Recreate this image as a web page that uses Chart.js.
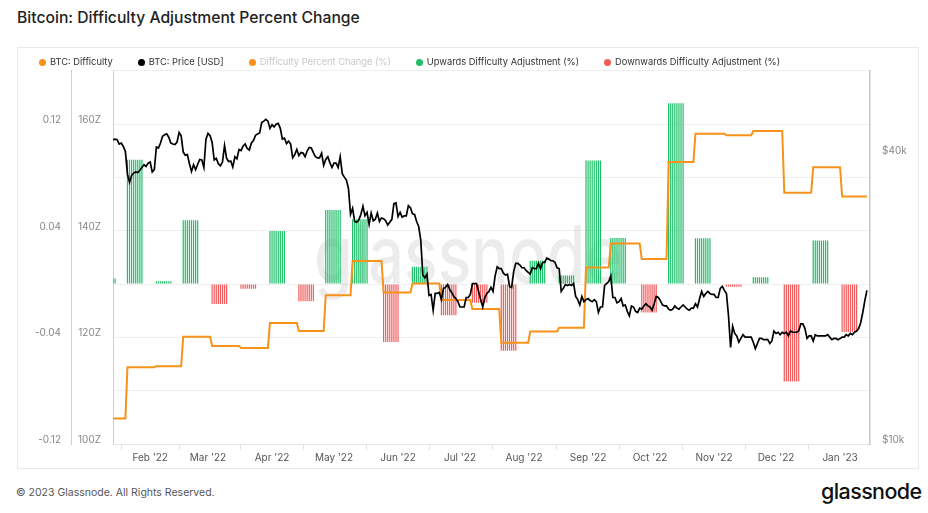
<!DOCTYPE html>
<html lang="en">
<head>
<meta charset="UTF-8">
<title>Bitcoin: Difficulty Adjustment Percent Change</title>
<script src="https://cdn.jsdelivr.net/npm/chart.js"></script>
<style>
  body { margin: 0; background: #fff; font-family: Inter, "Open Sans", sans-serif; width: 928px; height: 513px; position: relative; overflow: hidden; }
  .titulo { position: absolute; left: 17px; top: 8px; font-size: 15.7px; font-weight: 500; color: #222; }
  .painel { position: absolute; left: 17px; top: 47px; width: 902px; height: 422px; box-sizing: border-box; border: 1px solid #e9e9e9; }
  .grafico { position: absolute; left: 0; top: 0; width: 900px; height: 420px; }
  .legenda { position: absolute; left: 21px; top: 8px; display: flex; font-size: 9.3px; line-height: 12px; color: #333; z-index: 2; }
  .legenda span.item { display: flex; align-items: center; margin-right: 25px; white-space: nowrap; }
  .legenda i { display: inline-block; width: 7px; height: 7px; border-radius: 50%; margin-right: 4px; }
  .rodape { position: absolute; left: 16px; top: 486px; font-size: 10.5px; color: #555; }
  .logo { position: absolute; left: 821px; top: 478px; font-size: 21.5px; font-weight: 500; letter-spacing: -0.6px; color: #111; }
</style>
</head>
<body>
  <div class="titulo">Bitcoin: Difficulty Adjustment Percent Change</div>
  <div class="painel">
    <div class="legenda" id="legenda"></div>
    <div class="grafico"><canvas id="myChart"></canvas></div>
  </div>
  <div class="rodape">© 2023 Glassnode. All Rights Reserved.</div>
  <div class="logo">glassnode</div>

<script>
// dia 0 = 1 Jan 2022
const firstDay = 13;   // 14 Jan 2022
const lastDay = 378;   // 14 Jan 2023
const xMax = 379.5;

const monthTickDays = [31, 59, 90, 120, 151, 181, 212, 243, 273, 304, 334, 365];
const monthTickLabels = ["Feb '22", "Mar '22", "Apr '22", "May '22", "Jun '22", "Jul '22",
  "Aug '22", "Sep '22", "Oct '22", "Nov '22", "Dec '22", "Jan '23"];

// preco diario em milhares de USD, a partir de 14 Jan 2022
const priceK = [
  // jan
  43.1, 43.2, 43.1, 42.2, 42.4, 41.7, 40.7, 36.5, 35.1, 36.3, 36.7, 36.9, 36.8, 37.2, 37.7, 38.2, 37.9, 38.5,
  // fev
  38.7, 36.9, 37.3, 41.6, 41.4, 42.4, 43.8, 44.1, 44.3, 43.6, 42.4, 42.2, 42.1, 42.6, 44.6, 43.9, 40.6, 40.0,
  40.1, 38.4, 37.0, 38.2, 37.3, 38.3, 39.2, 39.1, 37.7, 43.2,
  // mar
  44.4, 43.9, 42.5, 39.1, 39.4, 38.4, 38.0, 38.7, 41.9, 39.4, 38.8, 38.9, 37.8, 39.7, 39.3, 41.1, 40.9, 41.8,
  42.2, 41.3, 41.0, 42.4, 42.9, 44.0, 44.3, 44.5, 46.8, 47.1, 47.5, 47.1, 45.5,
  // abr
  46.3, 45.8, 46.4, 46.6, 45.5, 43.2, 43.4, 42.3, 42.8, 42.2, 39.5, 40.1, 41.1, 39.9, 40.5, 40.4, 39.7, 40.8,
  41.5, 41.4, 40.5, 39.7, 39.5, 39.5, 40.4, 38.1, 39.2, 39.7, 38.6, 37.7,
  // mai
  38.5, 38.5, 37.7, 39.7, 36.6, 36.0, 35.5, 34.1, 30.1, 31.0, 29.1, 29.0, 29.3, 30.1, 31.3, 29.9, 30.4, 28.7,
  30.3, 29.2, 29.4, 30.3, 29.1, 29.6, 29.5, 29.2, 28.6, 29.0, 29.4, 31.7, 31.8,
  // jun
  29.8, 30.4, 29.7, 29.9, 29.9, 31.4, 31.1, 30.2, 30.1, 29.1, 28.4, 26.6, 22.5, 22.2, 22.6, 20.4, 20.5, 19.0,
  20.6, 20.6, 20.7, 20.0, 21.1, 21.2, 21.5, 21.0, 20.7, 20.3, 20.1, 19.8,
  // jul
  19.3, 19.3, 19.3, 20.2, 20.2, 20.5, 21.6, 21.6, 21.6, 20.8, 20.0, 19.3, 20.2, 20.6, 20.8, 21.2, 20.8, 22.4,
  23.4, 23.2, 23.2, 22.7, 22.5, 22.6, 21.3, 21.2, 22.9, 23.8, 23.8, 23.6, 23.3,
  // ago
  23.3, 23.0, 22.8, 22.6, 23.3, 23.2, 23.2, 23.8, 23.2, 23.9, 23.9, 24.4, 24.3, 24.1, 24.1, 23.9, 23.3, 23.2,
  20.8, 21.1, 21.5, 21.4, 21.5, 21.4, 21.6, 20.3, 20.0, 19.5, 20.3, 19.8, 20.0,
  // set
  20.1, 19.9, 19.8, 20.0, 19.8, 18.8, 19.3, 19.3, 21.4, 21.6, 21.8, 22.4, 20.2, 20.2, 19.7, 19.8, 20.1, 19.4,
  19.5, 18.9, 18.5, 19.4, 19.3, 18.9, 18.8, 19.2, 19.1, 19.4, 19.6, 19.4,
  // out
  19.3, 19.0, 19.6, 20.3, 20.2, 19.9, 19.5, 19.4, 19.4, 19.1, 19.0, 19.1, 19.4, 19.2, 19.1, 19.3, 19.5, 19.3,
  19.1, 19.0, 19.2, 19.2, 19.6, 19.3, 20.1, 20.8, 20.3, 20.6, 20.8, 20.6, 20.5,
  // nov
  20.5, 20.2, 20.2, 21.1, 21.3, 20.9, 20.6, 18.5, 15.9, 17.6, 17.0, 16.8, 16.3, 16.6, 16.9, 16.7, 16.7, 16.7,
  16.7, 16.3, 15.8, 16.2, 16.6, 16.6, 16.5, 16.5, 16.5, 16.2, 16.4, 17.2,
  // dez
  17.0, 17.1, 16.9, 17.1, 17.0, 17.1, 16.8, 17.2, 17.1, 17.1, 17.1, 17.2, 17.8, 17.8, 17.4, 16.6, 16.8, 16.8,
  16.4, 16.9, 16.8, 16.8, 16.8, 16.8, 16.8, 16.9, 16.7, 16.5, 16.6, 16.6, 16.5,
  // jan 2023
  16.6, 16.7, 16.7, 16.9, 16.8, 17.0, 16.9, 17.1, 17.2, 17.4, 17.9, 18.8, 19.9, 20.9
];

// ajustes de dificuldade: dia em que comeca cada epoca
const adjDays = [7, 20, 34, 47, 61, 75, 89, 103, 116, 129, 144, 158, 172, 187, 201, 215, 229, 242, 254, 269,
  282, 295, 310, 323, 338, 352, 366];
const difficultyZ = [104.8, 114.4, 114.6, 120.1, 118.4, 118.0, 122.7, 121.2, 127.9, 134.3, 128.4, 130.1,
  127.0, 125.3, 119.0, 121.1, 121.8, 133.1, 137.6, 134.7, 152.9, 158.2, 157.9, 158.7, 147.1, 151.9, 146.4];
const adjPct = [0.0041, 0.0932, 0.0020, 0.0479, -0.0149, -0.0035, 0.0398, -0.0130, 0.0556, 0.0485, -0.0435,
  0.0130, -0.0235, -0.0140, -0.0501, 0.0174, 0.0063, 0.0926, 0.0345, -0.0214, 0.1355, 0.0344, -0.0021,
  0.0051, -0.0732, 0.0327, -0.0359];
const barDays = 8; // barras aparecem nos primeiros 8 dias de cada epoca

const pctTicks = [-0.12, -0.08, -0.04, 0, 0.04, 0.08, 0.12, 0.16];
const pctTickLabels = ['-0.12', '', '-0.04', '', '0.04', '', '0.12', ''];
const diffTicks = [100, 110, 120, 130, 140, 150, 160, 170];
const diffTickLabels = ['100Z', '', '120Z', '', '140Z', '', '160Z', ''];
const priceTicks = [10000, 40000];
const priceTickLabels = ['$10k', '$40k'];

// monta os pontos
const pricePoints = priceK.map((v, i) => ({ x: firstDay + i, y: v * 1000 }));

const diffPoints = [];
adjDays.forEach((d, i) => {
  const ini = Math.max(d, firstDay);
  const fim = i < adjDays.length - 1 ? adjDays[i + 1] - 1 : lastDay;
  diffPoints.push({ x: ini, y: difficultyZ[i] }, { x: fim, y: difficultyZ[i] });
});

const pctPoints = adjDays.map((d, i) => ({ x: Math.max(d, firstDay), y: adjPct[i] }));

const upBars = [];
const downBars = [];
adjDays.forEach((d, i) => {
  for (let k = 0; k < barDays; k++) {
    const dia = d + k;
    if (dia < firstDay || dia > lastDay) continue;
    (adjPct[i] >= 0 ? upBars : downBars).push({ x: dia, y: adjPct[i] });
  }
});

const marcaDagua = {
  id: 'marcaDagua',
  beforeDatasetsDraw(chart) {
    const ctx = chart.ctx;
    ctx.save();
    ctx.font = '500 80px Inter';
    const w = ctx.measureText('glassnode').width;
    const sx = 308 / w;
    ctx.translate(chart.width / 2, 235);
    ctx.scale(sx, 1);
    ctx.fillStyle = 'rgba(0,0,0,0.075)';
    ctx.textAlign = 'center';
    ctx.textBaseline = 'alphabetic';
    ctx.fillText('glassnode', 0, 0);
    ctx.restore();
  }
};

const ctx = document.getElementById('myChart');

const chart = new Chart(ctx, {
  type: 'line',
  data: {
    datasets: [{
      label: 'BTC: Difficulty',
      data: diffPoints,
      yAxisID: 'diff',
      borderColor: '#f7931a',
      backgroundColor: '#f7931a',
      borderWidth: 2,
      pointRadius: 0,
      order: 1
    }, {
      label: 'BTC: Price [USD]',
      data: pricePoints,
      yAxisID: 'price',
      borderColor: '#000',
      backgroundColor: '#000',
      borderWidth: 1.7,
      pointRadius: 0,
      order: 0
    }, {
      label: 'Difficulty Percent Change (%)',
      data: pctPoints,
      yAxisID: 'pct',
      borderColor: '#f7931a',
      backgroundColor: '#f7931a',
      pointRadius: 0,
      hidden: true,
      order: 3
    }, {
      type: 'bar',
      label: 'Upwards Difficulty Adjustment (%)',
      data: upBars,
      yAxisID: 'pct',
      backgroundColor: '#1fbf6a',
      borderColor: '#1fbf6a',
      borderWidth: 0,
      barThickness: 1.2,
      inflateAmount: 0,
      grouped: false,
      order: 2
    }, {
      type: 'bar',
      label: 'Downwards Difficulty Adjustment (%)',
      data: downBars,
      yAxisID: 'pct',
      backgroundColor: '#f45c5c',
      borderColor: '#f45c5c',
      borderWidth: 0,
      barThickness: 1.2,
      inflateAmount: 0,
      grouped: false,
      order: 2
    }]
  },
  options: {
    responsive: true,
    maintainAspectRatio: false,
    animation: false,
    layout: { padding: { top: 22.7, left: 0, right: 0, bottom: 0 } },
    plugins: { legend: { display: false }, tooltip: { enabled: false } },
    scales: {
      x: {
        type: 'linear',
        min: firstDay,
        max: xMax,
        offset: false,
        afterBuildTicks: s => { s.ticks = monthTickDays.map(v => ({ value: v })); },
        afterFit: s => { s.height = 24; },
        ticks: {
          callback: (v, i) => monthTickLabels[i],
          autoSkip: false, maxRotation: 0, color: '#555', font: { size: 10, family: 'Inter' }, padding: 2
        },
        grid: { drawOnChartArea: false, drawTicks: true, tickLength: 6, color: '#e2e2e2' },
        border: { color: '#e6e6e6' }
      },
      pct: {
        type: 'linear',
        position: 'left',
        weight: 2,
        min: -0.12,
        max: 0.16,
        afterBuildTicks: s => { s.ticks = pctTicks.map(v => ({ value: v })); },
        afterFit: s => { s.width = 53; },
        ticks: { callback: (v, i) => pctTickLabels[i], color: '#888', font: { size: 10, family: 'Inter' }, padding: 10, labelOffset: -4 },
        grid: { color: '#efefef', drawTicks: false },
        border: { color: '#f9c592' }
      },
      diff: {
        type: 'linear',
        position: 'left',
        weight: 1,
        min: 100,
        max: 170,
        afterBuildTicks: s => { s.ticks = diffTicks.map(v => ({ value: v })); },
        afterFit: s => { s.width = 42; },
        ticks: { callback: (v, i) => diffTickLabels[i], color: '#888', font: { size: 10, family: 'Inter' }, padding: 12, labelOffset: -4 },
        grid: { drawOnChartArea: false, drawTicks: false },
        border: { color: '#f9c592' }
      },
      price: {
        type: 'logarithmic',
        position: 'right',
        min: 10000,
        max: 60000,
        afterBuildTicks: s => { s.ticks = priceTicks.map(v => ({ value: v })); },
        afterFit: s => { s.width = 48; },
        ticks: { callback: (v, i) => priceTickLabels[i], color: '#888', font: { size: 10, family: 'Inter' }, padding: 12, labelOffset: -4 },
        grid: { drawOnChartArea: false, drawTicks: false },
        border: { color: '#c8c8c8', width: 1.5 }
      }
    }
  },
  plugins: [marcaDagua]
});

// legenda em html, o item oculto fica com texto cinza
const legenda = document.getElementById('legenda');
chart.data.datasets.forEach(ds => {
  const item = document.createElement('span');
  item.className = 'item';
  const cor = ds.backgroundColor;
  item.innerHTML = '<i style="background:' + cor + '"></i>' + ds.label;
  if (ds.hidden) item.style.color = '#c8c8c8';
  legenda.appendChild(item);
});
</script>
</body>
</html>
